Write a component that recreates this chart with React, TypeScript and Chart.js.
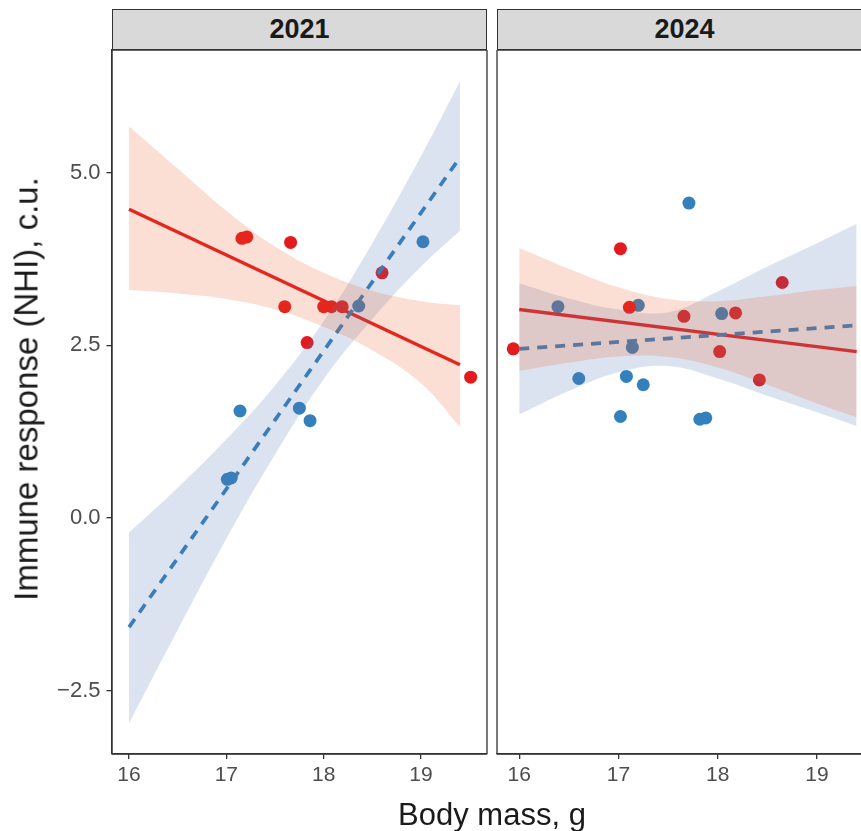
import React, { useEffect, useRef } from "react";
import { Chart, registerables } from "chart.js";
Chart.register(...registerables);

// ---------- data ----------
const PANELS = ["2021", "2024"];
const X_TICKS = [16, 17, 18, 19];
const Y_TICKS = [-2.5, 0, 2.5, 5];
const Y_TICK_LABELS = ["\u22122.5", "0.0", "2.5", "5.0"];
const X_TITLE = "Body mass, g";
const Y_TITLE = "Immune response (NHI), c.u.";

const RED_2021_X = [17.16, 17.21, 17.66, 17.6, 17.83, 18.0, 18.08, 18.19, 18.6, 19.51];
const RED_2021_Y = [4.05, 4.07, 3.99, 3.06, 2.54, 3.06, 3.06, 3.06, 3.55, 2.04];
const BLUE_2021_X = [17.14, 17.75, 17.86, 17.01, 17.05, 18.36, 19.02];
const BLUE_2021_Y = [1.55, 1.59, 1.41, 0.56, 0.58, 3.07, 4.0];

const RED_2024_X = [15.94, 17.02, 17.11, 17.66, 18.02, 18.18, 18.42, 18.65];
const RED_2024_Y = [2.45, 3.9, 3.05, 2.92, 2.41, 2.97, 2.0, 3.41];
const BLUE_2024_X = [17.71, 16.39, 17.2, 17.14, 18.04, 16.6, 17.08, 17.25, 17.02, 17.82, 17.88];
const BLUE_2024_Y = [4.56, 3.06, 3.08, 2.47, 2.96, 2.02, 2.05, 1.93, 1.47, 1.43, 1.45];

const FIT_X = [16, 19.4];
const RED_FIT_2021 = [4.47, 2.22];
const BLUE_FIT_2021 = [-1.58, 5.22];
const RED_FIT_2024 = [3.02, 2.41];
const BLUE_FIT_2024 = [2.45, 2.79];

const BAND_X = [16, 16.5, 17, 17.5, 18, 18.5, 19, 19.4];
const BLUE_LO_2021 = [-2.97, -1.62, -0.3, 0.92, 2.01, 2.88, 3.64, 4.16];
const BLUE_HI_2021 = [-0.21, 0.44, 1.14, 1.92, 2.85, 3.98, 5.24, 6.32];
const RED_LO_2021 = [3.3, 3.25, 3.17, 3.02, 2.77, 2.43, 1.95, 1.32];
const RED_HI_2021 = [5.67, 5.06, 4.45, 3.93, 3.55, 3.29, 3.14, 3.08];
const BLUE_LO_2024 = [1.5, 1.84, 2.11, 2.2, 2.02, 1.77, 1.53, 1.33];
const BLUE_HI_2024 = [3.4, 3.18, 3.02, 2.98, 3.28, 3.64, 3.98, 4.26];
const RED_LO_2024 = [2.13, 2.25, 2.34, 2.33, 2.18, 1.93, 1.66, 1.46];
const RED_HI_2024 = [3.91, 3.61, 3.34, 3.17, 3.14, 3.21, 3.3, 3.36];

// ---------- styling ----------
const FONT = '"Liberation Sans", Arial, Helvetica, sans-serif';
const RED = "#E41A1C";
const BLUE = "#3480BC";
const RED_FILL = "rgba(236, 88, 38, 0.2)";
const BLUE_FILL = "rgba(80, 115, 180, 0.2)";
const AXIS = "#333333";
const TICK_TEXT = "#4D4D4D";

const Y_MIN = -3.416;
const Y_MAX = 6.776;

const pts = (xs: number[], ys: number[]) => xs.map((x, i) => ({ x, y: ys[i] }));

function makeDatasets(d: any) {
  return [
    { label: "blue lo", data: pts(BAND_X, d.blueLo), borderWidth: 0, pointRadius: 0, fill: false, tension: 0.4, order: 2 },
    { label: "blue hi", data: pts(BAND_X, d.blueHi), borderWidth: 0, pointRadius: 0, fill: "-1", backgroundColor: BLUE_FILL, tension: 0.4, order: 2 },
    { label: "red lo", data: pts(BAND_X, d.redLo), borderWidth: 0, pointRadius: 0, fill: false, tension: 0.4, order: 1 },
    { label: "red hi", data: pts(BAND_X, d.redHi), borderWidth: 0, pointRadius: 0, fill: "-1", backgroundColor: RED_FILL, tension: 0.4, order: 1 },
    { label: "red fit", data: pts(FIT_X, d.redFit), borderColor: RED, borderWidth: 3.4, pointRadius: 0, fill: false, order: 4 },
    { label: "blue fit", data: pts(FIT_X, d.blueFit), borderColor: BLUE, borderWidth: 3.7, borderDash: [10, 8], borderCapStyle: "butt", pointRadius: 0, fill: false, order: 3 },
    { label: "blue pts", data: pts(d.blueX, d.blueY), showLine: false, pointRadius: 6.5, pointBorderWidth: 0, pointBackgroundColor: BLUE, backgroundColor: BLUE, borderColor: BLUE, order: 7 },
    { label: "red pts", data: pts(d.redX, d.redY), showLine: false, pointRadius: 6.5, pointBorderWidth: 0, pointBackgroundColor: RED, backgroundColor: RED, borderColor: RED, order: 6 },
  ];
}

const framePlugin = {
  id: "frame",
  afterDraw(chart: any, _args: any, opts: any) {
    const { ctx, chartArea } = chart;
    const { left, right, top, bottom } = chartArea;
    const sides: string = opts.sides || "ltrb";
    ctx.save();
    ctx.strokeStyle = AXIS;
    ctx.lineWidth = 1.3;
    ctx.beginPath();
    if (sides.includes("l")) { ctx.moveTo(left, top); ctx.lineTo(left, bottom); }
    if (sides.includes("r")) { ctx.moveTo(right, top); ctx.lineTo(right, bottom); }
    if (sides.includes("t")) { ctx.moveTo(left, top); ctx.lineTo(right, top); }
    if (sides.includes("b")) { ctx.moveTo(left, bottom); ctx.lineTo(right, bottom); }
    ctx.stroke();
    ctx.restore();
  },
};

function Panel(props: any) {
  const ref = useRef<HTMLCanvasElement | null>(null);
  const { cfg } = props;
  useEffect(() => {
    if (!ref.current) return;
    const chart = new Chart(ref.current, {
      type: "line",
      data: { datasets: makeDatasets(cfg.data) as any },
      plugins: [framePlugin as any],
      options: {
        responsive: false,
        animation: false,
        events: [],
        layout: { padding: cfg.padding, autoPadding: false },
        plugins: {
          legend: { display: false },
          tooltip: { enabled: false },
          frame: { sides: cfg.sides },
        } as any,
        scales: {
          x: {
            type: "linear",
            min: cfg.xMin,
            max: cfg.xMax,
            afterBuildTicks: (s: any) => { s.ticks = X_TICKS.map((v) => ({ value: v })); },
            afterFit: (s: any) => { s.height = 77; },
            ticks: {
              font: { family: FONT, size: 21 },
              color: TICK_TEXT,
              padding: 4,
              maxRotation: 0,
              autoSkip: false,
              callback: (v: any) => String(v),
            },
            grid: { display: true, drawOnChartArea: false, drawTicks: true, tickLength: 5, color: AXIS, lineWidth: 1.3 },
            border: { display: true, color: AXIS, width: 1.3 },
          },
          y: {
            type: "linear",
            display: cfg.showY,
            min: Y_MIN,
            max: Y_MAX,
            afterBuildTicks: (s: any) => { s.ticks = Y_TICKS.map((v) => ({ value: v })); },
            afterFit: (s: any) => { s.width = cfg.showY ? 112 : 0; },
            ticks: {
              font: { family: FONT, size: 22 },
              color: TICK_TEXT,
              padding: 6,
              autoSkip: false,
              callback: (v: any) => Y_TICK_LABELS[Y_TICKS.indexOf(Number(v))] ?? String(v),
            },
            grid: { display: true, drawOnChartArea: false, drawTicks: true, tickLength: 5.5, color: AXIS, lineWidth: 1.3 },
            border: { display: true, color: AXIS, width: 1.3 },
          },
        },
      } as any,
    });
    return () => chart.destroy();
  }, []);
  return (
    <canvas
      ref={ref}
      width={cfg.width}
      height={831}
      style={{ position: "absolute", left: cfg.left, top: 0, width: cfg.width, height: 831 }}
    />
  );
}

const PANEL_CFG = [
  {
    left: 0, width: 490, xMin: 15.825, xMax: 19.678, showY: true, sides: "ltrb",
    padding: { left: 0, top: 50, right: 3, bottom: 0 },
    data: {
      redX: RED_2021_X, redY: RED_2021_Y, blueX: BLUE_2021_X, blueY: BLUE_2021_Y,
      redFit: RED_FIT_2021, blueFit: BLUE_FIT_2021,
      redLo: RED_LO_2021, redHi: RED_HI_2021, blueLo: BLUE_LO_2021, blueHi: BLUE_HI_2021,
    },
  },
  {
    left: 490, width: 371, xMin: 15.776, xMax: 19.444, showY: false, sides: "ltb",
    padding: { left: 7, top: 50, right: 0, bottom: 0 },
    data: {
      redX: RED_2024_X, redY: RED_2024_Y, blueX: BLUE_2024_X, blueY: BLUE_2024_Y,
      redFit: RED_FIT_2024, blueFit: BLUE_FIT_2024,
      redLo: RED_LO_2024, redHi: RED_HI_2024, blueLo: BLUE_LO_2024, blueHi: BLUE_HI_2024,
    },
  },
];

const STRIP_LEFT = [112, 497];

export default function App() {
  return (
    <div style={{ position: "fixed", left: 0, top: 0, width: 861, height: 831, overflow: "hidden", background: "#fff", fontFamily: FONT }}>
      {PANEL_CFG.map((cfg, i) => (
        <Panel key={i} cfg={cfg} />
      ))}
      {PANELS.map((p, i) => (
        <div
          key={p}
          style={{
            position: "absolute", left: STRIP_LEFT[i], top: 9, width: 375, height: 41, boxSizing: "border-box",
            background: "#D9D9D9", border: "1.3px solid #333", display: "flex", alignItems: "center", justifyContent: "center",
            fontWeight: "bold", fontSize: 27, color: "#1A1A1A", fontFamily: FONT,
          }}
        >
          {p}
        </div>
      ))}
      <div style={{ position: "absolute", left: 292, top: 799, width: 400, height: 31, lineHeight: "31px", textAlign: "center", fontSize: 31, color: "#1A1A1A", whiteSpace: "nowrap" }}>
        {X_TITLE}
      </div>
      <div style={{ position: "absolute", left: 26, top: 389, width: 0, height: 0 }}>
        <div style={{ position: "absolute", left: 0, top: 0, transform: "translate(-50%, -50%) rotate(-90deg)", fontSize: 33, lineHeight: "33px", color: "#1A1A1A", whiteSpace: "nowrap" }}>
          {Y_TITLE}
        </div>
      </div>
    </div>
  );
}
